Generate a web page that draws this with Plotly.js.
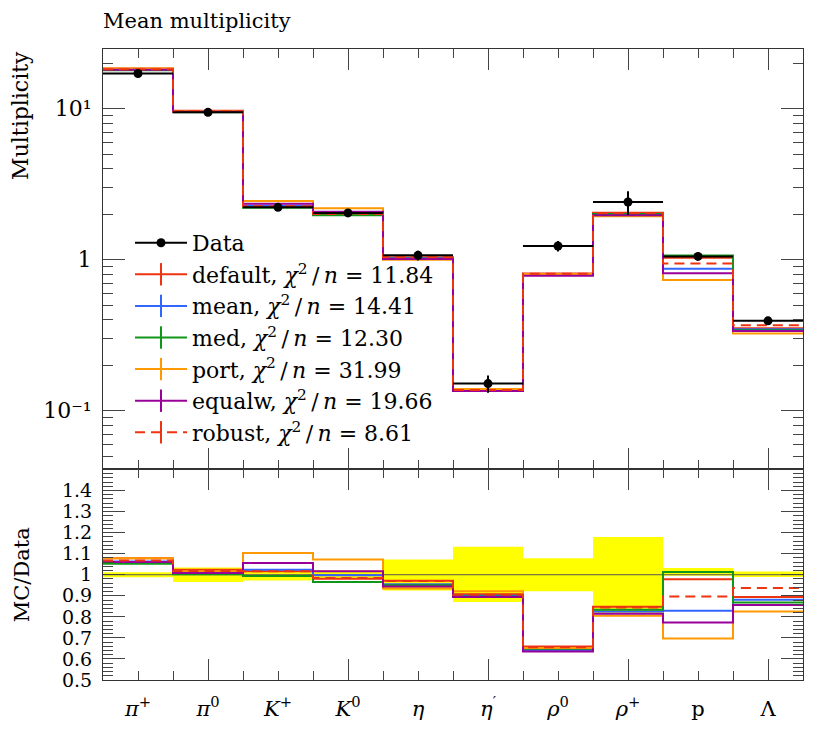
<!DOCTYPE html>
<html><head><meta charset="utf-8">
<script src="https://cdn.plot.ly/plotly-3.0.1.min.js"></script>
<style>html,body{margin:0;padding:0;background:#fff}</style>
</head><body>
<div id="chart" style="width:830px;height:750px"></div>
<script>
// ---- data ----
const categories = ['<i>π</i><sup>+</sup>', '<i>π</i><sup>0</sup>', '<i>K</i><sup>+</sup>', '<i>K</i><sup>0</sup>', '<i>η</i>', '<i>η</i><sup>′</sup>', '<i>ρ</i><sup>0</sup>', '<i>ρ</i><sup>+</sup>', 'p', 'Λ'];
const dataValues  = [17.1, 9.45, 2.22, 2.04, 1.068, 0.151, 1.23, 2.41, 1.05, 0.393];
const dataErrUp   = [0.205, 0.331, 0.060, 0.041, 0.078, 0.020, 0.097, 0.431, 0.034, 0.0063];
const dataErrDown = [0.205, 0.331, 0.060, 0.041, 0.080, 0.0196, 0.097, 0.434, 0.005, 0.0043];

const mcDefault = [18.45, 9.68, 2.256, 2.001, 1.038, 0.1371, 0.8106, 2.044, 1.028, 0.3513];
const mcMean    = [18.18, 9.507, 2.273, 2.036, 1.020, 0.1359, 0.7897, 1.988, 0.8705, 0.3462];
const mcMed     = [17.99, 9.469, 2.207, 1.969, 1.015, 0.1354, 0.797, 2.008, 1.064, 0.3411];
const mcPort    = [18.45, 9.601, 2.449, 2.189, 0.9986, 0.1391, 0.802, 1.940, 0.7319, 0.3242];
const mcEqualw  = [18.13, 9.526, 2.344, 2.075, 1.008, 0.135, 0.781, 1.964, 0.8117, 0.3364];
const mcRobust  = [18.26, 9.62, 2.256, 2.009, 1.036, 0.1367, 0.806, 2.036, 0.9419, 0.3682];

const seriesNames = ['default', 'mean', 'med', 'port', 'equalw', 'robust'];
const chi2Values  = ['11.84', '14.41', '12.30', '31.99', '19.66', '8.61'];

const yTickVals  = [0.1, 1, 10];
const yTickText  = ['10⁻¹', '1', '10¹'];
const rTickVals  = [0.5, 0.6, 0.7, 0.8, 0.9, 1, 1.1, 1.2, 1.3, 1.4];
const rTickText  = ['0.5', '0.6', '0.7', '0.8', '0.9', '1', '1.1', '1.2', '1.3', '1.4'];

// ---- styles ----
const mcSeries = [mcDefault, mcMean, mcMed, mcPort, mcEqualw, mcRobust];
const colors = ['#EE3311', '#3366FF', '#109618', '#FF9900', '#990099', '#EE3311'];
const dashes = ['solid', 'solid', 'solid', 'solid', 'solid', '10px,6px'];
const FONT = 'DejaVu Serif, serif';
const FS = 21;
const n = categories.length;
const centers = categories.map((_, i) => i + 0.5);

function step(vals) {
  const x = vals.map((_, i) => i);
  const y = vals.slice();
  x.push(vals.length); y.push(vals[vals.length - 1]);
  return {x, y};
}

const traces = [];
mcSeries.forEach((vals, k) => {
  const s = step(vals);
  traces.push({x: s.x, y: s.y, xaxis: 'x', yaxis: 'y', mode: 'lines',
    line: {shape: 'hv', color: colors[k], width: 2, dash: dashes[k]},
    showlegend: false, hoverinfo: 'skip'});
});
traces.push({x: centers, y: dataValues, xaxis: 'x', yaxis: 'y', mode: 'markers',
  marker: {color: 'black', size: 9, symbol: 'circle'},
  error_x: {type: 'constant', value: 0.5, width: 0, thickness: 2, color: 'black'},
  error_y: {type: 'data', symmetric: false, array: dataErrUp, arrayminus: dataErrDown, width: 0, thickness: 2, color: 'black'},
  showlegend: false, name: 'Data'});

traces.push({x: [null], y: [null], xaxis: 'x', yaxis: 'y', mode: 'lines+markers', name: 'Data',
  line: {color: 'black', width: 2}, marker: {color: 'black', size: 9, symbol: 'circle'}});
seriesNames.forEach((nm, k) => {
  traces.push({x: [null], y: [null], xaxis: 'x', yaxis: 'y', mode: 'lines+markers',
    name: nm + ', <i>χ</i><sup>2</sup>\u2009/\u2009<i>n</i> = ' + chi2Values[k],
    line: {color: colors[k], width: 2, dash: dashes[k]},
    marker: {symbol: 'line-ns-open', size: 16, color: colors[k], line: {color: colors[k], width: 2}}});
});

const bandUp = dataErrUp.map((e, i) => e / dataValues[i]);
const bandDn = dataErrDown.map((e, i) => e / dataValues[i]);
traces.push({type: 'bar', x: centers, y: bandUp.map((u, i) => u + bandDn[i]), base: bandDn.map(d => 1 - d),
  width: 1, xaxis: 'x2', yaxis: 'y2', marker: {color: '#FFFF00', line: {width: 0}},
  showlegend: false, hoverinfo: 'skip'});
traces.push({x: [0, n], y: [1, 1], xaxis: 'x2', yaxis: 'y2', mode: 'lines',
  line: {color: '#555555', width: 1}, showlegend: false, hoverinfo: 'skip'});
mcSeries.forEach((vals, k) => {
  const s = step(vals.map((v, i) => v / dataValues[i]));
  traces.push({x: s.x, y: s.y, xaxis: 'x2', yaxis: 'y2', mode: 'lines',
    line: {shape: 'hv', color: colors[k], width: 2, dash: dashes[k]},
    showlegend: false, hoverinfo: 'skip'});
});
// dummy trace on the label-only overlay subplot
traces.push({x: [null], y: [null], xaxis: 'x3', yaxis: 'y3', mode: 'markers', showlegend: false, hoverinfo: 'skip'});

// computed tick positions
const xMinor = []; for (let i = 0; i <= 2 * n; i++) xMinor.push(i / 2);
const rMinor = []; for (let i = 0; i <= 50; i++) rMinor.push(+(0.5 + i * 0.02).toFixed(2));
const yMinor = []; [0.01, 0.1, 1, 10].forEach(d => { for (let m = 2; m <= 9; m++) yMinor.push(+(m * d).toPrecision(3)); });

const axLine = '#333333';
const tickCol = '#444444';
const xCommon = {range: [0, n], showgrid: false, zeroline: false, showline: true, linecolor: axLine, linewidth: 1,
  mirror: 'allticks', ticks: 'inside', tickmode: 'array', tickvals: [1.5, 3.5, 5.5, 7.5, 9.5], ticklen: 21,
  tickcolor: tickCol, tickwidth: 1, showticklabels: false,
  minor: {ticks: 'inside', tickmode: 'array', tickvals: xMinor, ticklen: 9, tickcolor: tickCol, tickwidth: 1, showgrid: false}};

const layout = {
  width: 830, height: 750,
  margin: {l: 103, r: 27, t: 49, b: 70},
  paper_bgcolor: 'white', plot_bgcolor: 'white',
  font: {family: FONT, size: FS, color: 'black'},
  showlegend: true,
  legend: {x: 0.0386, y: 0.726, xanchor: 'left', yanchor: 'top', bgcolor: 'rgba(0,0,0,0)',
    font: {family: FONT, size: 22}, itemwidth: 52, tracegroupgap: 0},
  title: {text: 'Mean multiplicity', x: 0, xref: 'paper', xanchor: 'left', y: 0.973, yref: 'container', yanchor: 'middle',
    font: {family: FONT, size: FS}},
  xaxis: Object.assign({}, xCommon, {anchor: 'y', domain: [0, 1]}),
  xaxis2: Object.assign({}, xCommon, {anchor: 'y2', domain: [0, 1]}),
  xaxis3: {overlaying: 'x2', anchor: 'y3', range: [0, n], showgrid: false, zeroline: false, showline: false,
    ticks: '', tickmode: 'array', tickvals: centers, ticktext: categories, ticklabelstandoff: 14,
    tickfont: {family: FONT, size: FS}},
  yaxis3: {overlaying: 'y2', anchor: 'x3', range: [0.5, 1.5], showgrid: false, zeroline: false, showline: false,
    ticks: '', showticklabels: false},
  yaxis: {type: 'log', domain: [0.3336, 1], range: [-1.39, 1.395], anchor: 'x',
    showgrid: false, zeroline: false, showline: true, linecolor: axLine, linewidth: 1, mirror: 'allticks',
    ticks: 'inside', tickmode: 'array', tickvals: yTickVals, ticktext: yTickText, ticklen: 22, tickcolor: tickCol,
    ticklabelstandoff: 6, tickfont: {family: FONT, size: FS + 1},
    minor: {ticks: 'inside', tickmode: 'array', tickvals: yMinor, ticklen: 10, tickcolor: tickCol, showgrid: false}},
  yaxis2: {domain: [0, 0.3336], range: [0.5, 1.5], anchor: 'x2',
    showgrid: false, zeroline: false, showline: true, linecolor: axLine, linewidth: 1, mirror: 'allticks',
    ticks: 'inside', tickmode: 'array', tickvals: rTickVals, ticktext: rTickText, ticklen: 22, tickcolor: tickCol,
    ticklabelstandoff: 6, tickfont: {family: FONT, size: 19},
    title: {text: 'MC/Data', font: {family: FONT, size: FS}, standoff: 26},
    minor: {ticks: 'inside', tickmode: 'array', tickvals: rMinor, ticklen: 10, tickcolor: tickCol, showgrid: false}},
  annotations: [{text: 'Multiplicity', textangle: -90, xref: 'paper', yref: 'paper', x: -0.118, y: 1.0,
    xanchor: 'center', yanchor: 'top', showarrow: false, font: {family: FONT, size: FS + 1}}]
};

Plotly.newPlot('chart', traces, layout, {displayModeBar: false, staticPlot: true});
</script>
</body></html>
